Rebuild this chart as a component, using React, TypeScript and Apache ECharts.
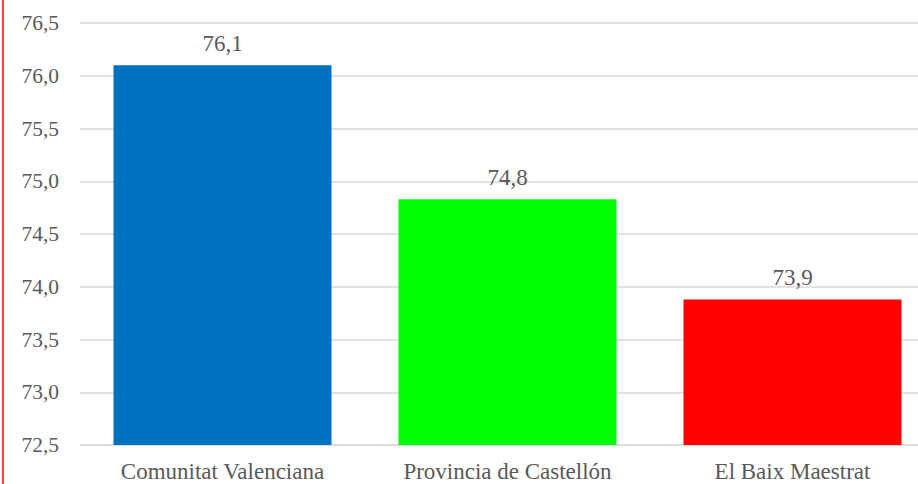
import React, { useEffect, useRef } from "react";
import * as echarts from "echarts";

const categories = ["Comunitat Valenciana", "Provincia de Castellón", "El Baix Maestrat"];
const values = [76.1, 74.83, 73.88];
const barColors = ["#0070C0", "#00FF00", "#FF0000"];

const fmt = (v: number, d: number) => v.toFixed(d).replace(".", ",");
const FONT = "Liberation Serif";

export default function App() {
  const ref = useRef<HTMLDivElement>(null);
  useEffect(() => {
    if (!ref.current) return;
    const chart = echarts.init(ref.current, undefined, { renderer: "svg" });
    chart.setOption({
      animation: false,
      backgroundColor: "#ffffff",
      grid: { left: 80, right: 0, top: 23, bottom: 39, containLabel: false },
      xAxis: {
        type: "category",
        data: categories,
        axisLine: { show: true, lineStyle: { color: "#d9d9d9", width: 1.5 } },
        axisTick: { show: false },
        axisLabel: { color: "#595959", fontFamily: FONT, fontSize: 23, margin: 15 },
      },
      yAxis: {
        type: "value",
        min: 72.5,
        max: 76.5,
        interval: 0.5,
        axisLine: { show: false },
        axisTick: { show: false },
        axisLabel: {
          color: "#595959",
          fontFamily: FONT,
          fontSize: 21.5,
          margin: 21,
          formatter: (v: number) => fmt(v, 1),
        },
        splitLine: { lineStyle: { color: "#d9d9d9", width: 1.5 } },
      },
      series: [
        {
          type: "bar",
          data: values.map((v, i) => ({ value: v, itemStyle: { color: barColors[i] } })),
          barCategoryGap: "23.5%",
          label: {
            show: true,
            position: "top",
            distance: 10,
            color: "#595959",
            fontFamily: FONT,
            fontSize: 23,
            formatter: (p: any) => fmt(p.value, 1),
          },
        },
      ],
      graphic: [
        {
          type: "line",
          shape: { x1: 3, y1: 0, x2: 3, y2: 484 },
          style: { stroke: "#ff0000", lineWidth: 1.5 },
        },
      ],
    });
    return () => chart.dispose();
  }, []);
  return (
    <div
      ref={ref}
      style={{ position: "fixed", left: 0, top: 0, width: 935, height: 484 }}
    />
  );
}
